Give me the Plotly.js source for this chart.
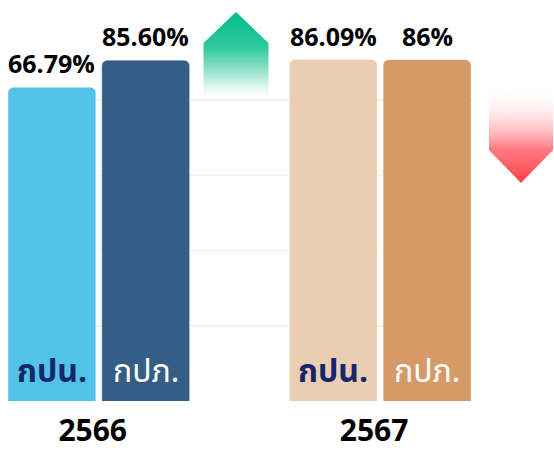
<!DOCTYPE html>
<html>
<head>
<meta charset="utf-8">
<script src="https://cdn.plot.ly/plotly-3.0.1.min.js"></script>
<style>html,body{margin:0;padding:0;background:#fff;}#chart{width:554px;height:451px;}</style>
</head>
<body>
<div id="chart"></div>
<script>
// ---- data ----
const years = ['2566', '2567'];
const orgs = ['กปน.', 'กปภ.'];
const values2566 = [66.79, 85.60];
const values2567 = [86.09, 86];
const labels2566 = ['66.79%', '85.60%'];
const labels2567 = ['86.09%', '86%'];

// ---- styles ----
const barColors = [['#50C3E6', '#345E86'], ['#EBCDB3', '#D69A69']];
const innerTextColors = ['#15276B', '#FFFFFF'];
const innerTextWeights = [700, 400];
const slotsPerYear = 3;
const W = 554, H = 451;
const thaiFont = 'Noto Sans Thai, Noto Sans Thai UI, Sarabun, Prompt, Kanit, Noto Sans, sans-serif';

const yearValues = [values2566, values2567];
const yearLabels = [labels2566, labels2567];

const traces = [];
const annotations = [];
yearValues.forEach((vals, yi) => {
  const xs = vals.map((v, oi) => yi * slotsPerYear + oi);
  traces.push({
    type: 'bar', x: xs, y: vals, width: 0.936,
    marker: { color: barColors[yi], cornerradius: 6,
              line: { color: 'rgba(255,255,255,0.35)', width: 1 } },
    hoverinfo: 'skip', cliponaxis: false, showlegend: false
  });
  vals.forEach((v, oi) => {
    annotations.push({
      xref: 'x', yref: 'y', x: xs[oi], y: Math.log10(v),
      text: yearLabels[yi][oi], showarrow: false, yanchor: 'bottom', yshift: 5,
      font: { family: 'Open Sans', size: 25, color: '#000', weight: 700 }
    });
    annotations.push({
      xref: 'x', yref: 'y domain', x: xs[oi], y: 0,
      text: orgs[oi], showarrow: false, yanchor: 'bottom', yshift: 3,
      font: { family: thaiFont, size: 32, color: innerTextColors[oi], weight: innerTextWeights[oi] }
    });
  });
});

// ---- decorative trend arrows (pixel geometry on an overlay subplot) ----
const arrows = [
  { xc: 236, hw: 32.5, tip: 12, shoulder: 43, end: 102,
    scale: [[0, 'rgba(255,255,255,0)'], [0.2, '#D2F4EA'], [0.4, '#84DCC1'], [0.6, '#30C99E'], [1, '#00BC8C']] },
  { xc: 521, hw: 32, tip: 183, shoulder: 150, end: 86,
    scale: [[0, 'rgba(255,255,255,0)'], [0.35, 'rgba(255,140,150,0.3)'], [0.65, 'rgba(255,90,98,0.8)'], [1, '#FF4046']] }
];
arrows.forEach(a => {
  traces.push({
    type: 'scatter', xaxis: 'x2', yaxis: 'y2', mode: 'lines',
    x: [a.xc - a.hw, a.xc - a.hw, a.xc, a.xc + a.hw, a.xc + a.hw, a.xc - a.hw],
    y: [a.end, a.shoulder, a.tip, a.shoulder, a.end, a.end],
    fill: 'toself', line: { width: 0, color: 'rgba(0,0,0,0)' },
    fillgradient: { type: 'vertical', colorscale: a.scale, start: a.end, stop: a.tip },
    hoverinfo: 'skip', showlegend: false
  });
});

// ---- axis scale (visual, log) ----
const yLo = 0.5803, yHi = 2.0720, gridStep = 0.29834;
const layout = {
  width: W, height: H,
  margin: { l: 0, r: 0, t: 0, b: 0 },
  paper_bgcolor: '#fff', plot_bgcolor: 'rgba(0,0,0,0)',
  bargap: 0,
  xaxis: {
    domain: [8 / W, 472 / W], range: [-0.468, 4.479],
    showgrid: false, zeroline: false, showline: false, ticks: '',
    tickmode: 'array',
    tickvals: years.map((y, i) => i * slotsPerYear + 0.5 - 0.065),
    ticktext: years, ticklabelstandoff: 9,
    tickfont: { family: 'Open Sans', size: 30, color: '#000', weight: 700 },
    automargin: false, fixedrange: true
  },
  yaxis: {
    type: 'log', domain: [(H - 401) / H, (H - 25) / H], range: [yLo, yHi],
    tickmode: 'linear', tick0: yLo, dtick: gridStep,
    showgrid: true, gridcolor: '#FBEEE2', gridwidth: 1.5,
    showticklabels: false, zeroline: false, showline: false, ticks: '',
    automargin: false, fixedrange: true
  },
  xaxis2: { domain: [0, 1], range: [0, W], anchor: 'y2', visible: false, fixedrange: true },
  yaxis2: { domain: [0, 1], range: [H, 0], anchor: 'x2', visible: false, fixedrange: true },
  annotations: annotations
};

Plotly.newPlot('chart', traces, layout, { staticPlot: true, displayModeBar: false });
</script>
</body>
</html>
